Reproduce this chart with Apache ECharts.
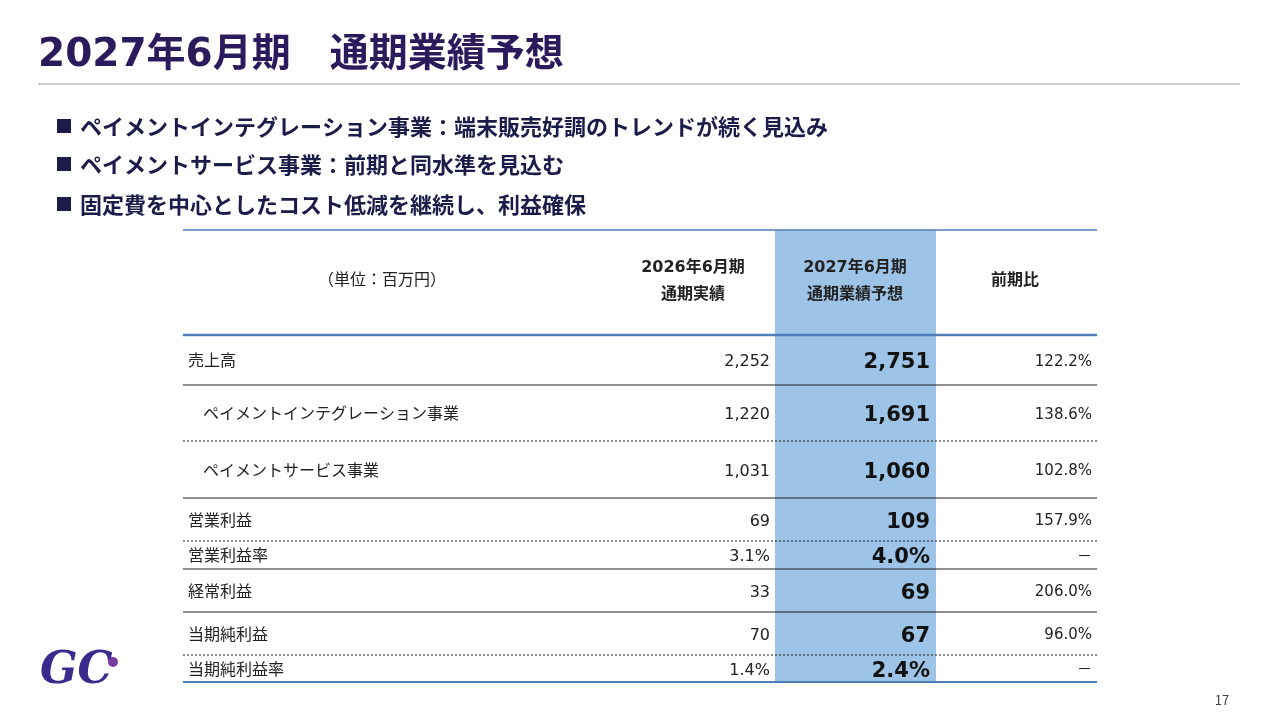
<!DOCTYPE html>
<html><head><meta charset="utf-8">
<script src="https://cdn.jsdelivr.net/npm/echarts@6/dist/echarts.min.js"></script>
<style>html,body{margin:0;background:#fff}#c{width:1280px;height:720px}</style></head>
<body><div id="c"></div>
<script>
const title = '2027年6月期　通期業績予想';
const bullets = ['ペイメントインテグレーション事業：端末販売好調のトレンドが続く見込み','ペイメントサービス事業：前期と同水準を見込む','固定費を中心としたコスト低減を継続し、利益確保'];
const headers = ['（単位：百万円）','2026年6月期\n通期実績','2027年6月期\n通期業績予想','前期比'];
const rowLabels = ['売上高','ペイメントインテグレーション事業','ペイメントサービス事業','営業利益','営業利益率','経常利益','当期純利益','当期純利益率'];
const indent = [false,true,true,false,false,false,false,false];
const fy2026 = ['2,252','1,220','1,031','69','3.1%','33','70','1.4%'];
const fy2027 = ['2,751','1,691','1,060','109','4.0%','69','67','2.4%'];
const yoy = ['122.2%','138.6%','102.8%','157.9%','－','206.0%','96.0%','－'];
const rowBounds = [335,385,441,498,541,569,612,655,682];
const dashed = [false,true,false,true,false,false,true,false];

const F = '"Noto Sans CJK JP","Noto Sans",sans-serif';
const N = '"DejaVu Sans","Noto Sans CJK JP",sans-serif';
const navy = '#1c1c4a';
const g = [];
g.push({type:'text',left:38,top:36,style:{text:title,font:'bold 39px '+N,fill:'#2b1b5c'}});
g.push({type:'line',shape:{x1:38,y1:84,x2:1240,y2:84},style:{stroke:'#999',lineWidth:1}});
bullets.forEach((b,i)=>{
  const y=[127,165,205][i];
  g.push({type:'rect',shape:{x:57,y:y-8,width:14,height:14},style:{fill:navy}});
  g.push({type:'text',x:80,y:y,style:{text:b,font:'bold 22px '+F,fill:navy,verticalAlign:'middle'}});
});
g.push({type:'rect',shape:{x:775,y:230,width:161,height:452},style:{fill:'#9dc3e6'}});
g.push({type:'line',shape:{x1:183,y1:230,x2:1097,y2:230},style:{stroke:'#4f7fb8',lineWidth:1.5}});
g.push({type:'line',shape:{x1:183,y1:335,x2:1097,y2:335},style:{stroke:'#4f7fb8',lineWidth:2.5}});
const hx=[382,693,855,1015];
headers.forEach((h,i)=>{
  g.push({type:'text',x:hx[i],y:281,style:{text:h,font:(i==0?'':'bold ')+'16px '+N,fill:'#222',align:'center',verticalAlign:'middle',lineHeight:27}});
});
rowLabels.forEach((l,i)=>{
  const yc=(rowBounds[i]+rowBounds[i+1])/2;
  g.push({type:'text',x:indent[i]?203:188,y:yc,style:{text:l,font:'16px '+F,fill:'#222',verticalAlign:'middle'}});
  g.push({type:'text',x:770,y:yc+2,style:{text:fy2026[i],font:'16px '+N,fill:'#222',align:'right',verticalAlign:'middle'}});
  g.push({type:'text',x:930,y:yc+3,style:{text:fy2027[i],font:'bold 21px '+N,fill:'#111',align:'right',verticalAlign:'middle'}});
  g.push({type:'text',x:1092,y:yc+2,style:{text:yoy[i],font:'15px '+N,fill:'#222',align:'right',verticalAlign:'middle'}});
  const yb=rowBounds[i+1], last=i==rowLabels.length-1;
  g.push({type:'line',shape:{x1:183,y1:yb,x2:1097,y2:yb},style:{stroke:last?'#4f7fb8':'#222',lineWidth:last?2:1,lineDash:dashed[i]?[2,2]:null}});
});
g.push({type:'text',left:40,top:650,style:{text:'GC',font:'bold italic 44px "DejaVu Serif",serif',fill:'#3a2a8c'}});
g.push({type:'circle',shape:{cx:113,cy:662,r:5},style:{fill:'#7a3aa0'}});
g.push({type:'text',x:1222,y:700,style:{text:'17',font:'13px '+F,fill:'#444',align:'center',verticalAlign:'middle'}});
const chart=echarts.init(document.getElementById('c'));
chart.setOption({graphic:g});
</script></body></html>
